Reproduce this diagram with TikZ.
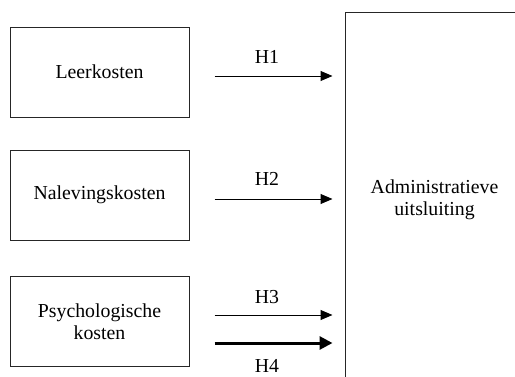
\documentclass[tikz,border=0pt]{standalone}
\usepackage{fontspec}
\setmainfont{Liberation Serif}
\usetikzlibrary{arrows.meta}
\begin{document}
\begin{tikzpicture}[x=1pt,y=-1pt,
  box/.style={draw=black!85,line width=1pt,minimum width=179pt,minimum height=90pt,inner sep=0pt,align=center,font=\fontsize{19.8}{22.5}\selectfont},
  hlabel/.style={inner sep=0pt,font=\fontsize{19.8}{22.5}\selectfont},
  arr/.style={line width=1pt,-{Triangle[length=12pt,width=10pt]},shorten <=25pt,shorten >=12pt},
  thickarr/.style={line width=3pt,-{Triangle[length=13pt,width=13pt]},shorten <=25pt,shorten >=12pt}]
\useasboundingbox (0,0) rectangle (515,376);
\clip (0,0) rectangle (515,376);
\node[box] (L) at (99.5,72) {Leerkosten};
\node[box] (N) at (99.5,195) {Nalevingskosten};
\node[box] (P) at (99.5,321.5) {Psychologische\\kosten};
\node[box,minimum width=179pt,minimum height=376pt] (A) at (434.5,200) {Administratieve\\uitsluiting};
\coordinate (s1) at ([yshift=-4pt]L.east);
\coordinate (s2) at ([yshift=-4pt]N.east);
\coordinate (s3) at ([yshift=6.5pt]P.east);
\coordinate (s4) at ([yshift=-21.5pt]P.east);
\draw[arr] (s1) -- (s1 -| A.west);
\draw[arr] (s2) -- (s2 -| A.west);
\draw[arr] (s3) -- (s3 -| A.west);
\draw[thickarr] (s4) -- (s4 -| A.west);
\node[hlabel] (h1) at (267,57) {H1};
\node[hlabel] (h2) at (267,178.5) {H2};
\node[hlabel] (h3) at (267,297.5) {H3};
\node[hlabel] (h4) at (267,366) {H4};
\end{tikzpicture}
\end{document}
